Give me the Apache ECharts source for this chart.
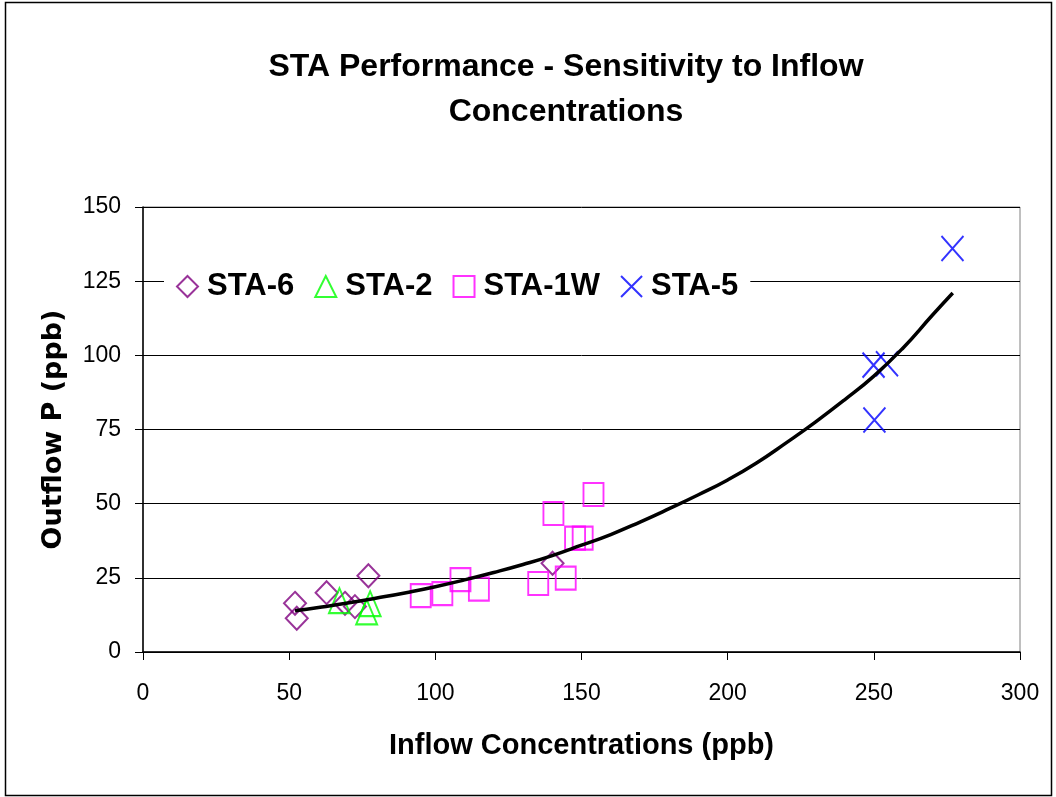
<!DOCTYPE html>
<html>
<head>
<meta charset="utf-8">
<script src="https://cdn.jsdelivr.net/npm/echarts@6/dist/echarts.min.js"></script>
<style>
html,body{margin:0;padding:0;background:#fff;}
#chart{width:1056px;height:797px;}
</style>
</head>
<body>
<div id="chart"></div>
<script>
// ---- data ----
const titleText = 'STA Performance - Sensitivity to Inflow\nConcentrations';
const xAxisTitle = 'Inflow Concentrations (ppb)';
const yAxisTitle = 'Outflow P (ppb)';
const seriesNames = ['STA-6', 'STA-2', 'STA-1W', 'STA-5'];

const sta6 = [[52.0, 16.4], [52.6, 11.4], [62.8, 20.0], [69.1, 16.4], [72.5, 15.3], [77.1, 25.7], [140.1, 29.9]];
const sta2 = [[67.2, 17.3], [76.5, 13.5], [77.7, 16.3]];
const sta1w = [[95.0, 19.0], [102.4, 19.7], [108.6, 24.4], [114.9, 21.2], [135.2, 23.1], [140.4, 46.7],
               [144.6, 24.9], [147.8, 38.4], [150.4, 38.4], [154.1, 53.1]];
const sta5 = [[249.9, 96.7], [254.5, 97.2], [250.2, 78.2], [276.9, 136.0]];

const trendX = [52, 60, 70, 80, 90, 100, 110, 120, 130, 140, 150, 160, 170, 180, 190, 200, 210, 220, 230, 240, 250, 260, 270, 277];
const trendY = [13.9, 15.0, 16.5, 18.2, 20.0, 22.0, 24.3, 26.8, 29.5, 32.5, 36.0, 39.6, 43.8, 48.3, 53.0, 58.0, 63.8, 70.5, 77.5, 85.0, 93.0, 102.5, 113.5, 121.0];

const xTicks = [0, 50, 100, 150, 200, 250, 300];
const yTicks = [0, 25, 50, 75, 100, 125, 150];

// ---- chart ----
const chart = echarts.init(document.getElementById('chart'), null, {renderer: 'canvas'});
const sansBold = "'Liberation Sans', Arial, sans-serif";
const crossPath = 'path://M0,0L10,10M10,0L0,10';

function scatter(name, data, symbol, size, color) {
  return {
    name: name, type: 'scatter', data: data, symbol: symbol, symbolSize: size,
    itemStyle: {color: 'rgba(255,255,255,0)', borderColor: color, borderWidth: 2},
    emphasis: {disabled: true}, z: 3
  };
}

const option = {
  backgroundColor: '#ffffff',
  animation: false,
  title: {
    text: titleText, left: 561, top: 40, textAlign: 'center',
    textStyle: {fontFamily: sansBold, fontSize: 32, fontWeight: 'bold', color: '#000', lineHeight: 45}
  },
  graphic: [{
    type: 'rect', shape: {x: 5.5, y: 2.5, width: 1046, height: 793},
    style: {fill: 'none', stroke: '#000', lineWidth: 1.5}, silent: true, z: 100
  }],
  legend: {
    data: seriesNames.map(n => ({name: n})),
    left: 164, top: 268, orient: 'horizontal',
    itemWidth: 21, itemHeight: 21, itemGap: 20,
    padding: [3, 12, 3, 12],
    backgroundColor: '#ffffff',
    textStyle: {fontFamily: sansBold, fontSize: 31, fontWeight: 'bold', color: '#000', padding: [0, 0, 0, 4]},
    selectedMode: false
  },
  grid: {left: 143, top: 207, width: 877, height: 445, show: true, borderColor: '#808080', borderWidth: 1, backgroundColor: 'transparent'},
  xAxis: {
    type: 'value', min: xTicks[0], max: xTicks[xTicks.length - 1], interval: 50,
    name: xAxisTitle, nameLocation: 'middle', nameGap: 79,
    nameTextStyle: {fontFamily: sansBold, fontSize: 29, fontWeight: 'bold', color: '#000'},
    axisLine: {show: true, onZero: false, lineStyle: {color: '#000', width: 1.5}},
    axisTick: {show: true, inside: false, length: 8, lineStyle: {color: '#000', width: 1}},
    axisLabel: {fontFamily: "'Liberation Sans', Arial, sans-serif", fontSize: 23, color: '#000', margin: 30},
    splitLine: {show: false}
  },
  yAxis: {
    type: 'value', min: yTicks[0], max: yTicks[yTicks.length - 1], interval: 25,
    name: yAxisTitle, nameLocation: 'middle', nameGap: 76, nameRotate: 90,
    nameTextStyle: {fontFamily: "'DejaVu Sans', Verdana, sans-serif", fontSize: 27, fontWeight: 'bold', color: '#000'},
    axisLine: {show: true, onZero: false, lineStyle: {color: '#000', width: 1.5}},
    axisTick: {show: true, inside: false, length: 8, lineStyle: {color: '#000', width: 1}},
    axisLabel: {fontFamily: "'Liberation Sans', Arial, sans-serif", fontSize: 23, color: '#000', margin: 22},
    splitLine: {show: true, lineStyle: {color: '#000', width: 1}}
  },
  series: [
    scatter(seriesNames[0], sta6, 'diamond', [22, 23], '#800080'),
    scatter(seriesNames[1], sta2, 'triangle', [21, 25], '#00FF00'),
    scatter(seriesNames[2], sta1w, 'rect', [20, 23], '#FF00FF'),
    scatter(seriesNames[3], sta5, crossPath, [22, 25], '#0000FF'),
    {
      name: 'Trend', type: 'line', data: trendX.map((x, i) => [x, trendY[i]]),
      smooth: true, showSymbol: false, symbol: 'none',
      lineStyle: {color: '#000', width: 3.5}, z: 4, emphasis: {disabled: true}
    }
  ]
};
chart.setOption(option);
</script>
</body>
</html>
